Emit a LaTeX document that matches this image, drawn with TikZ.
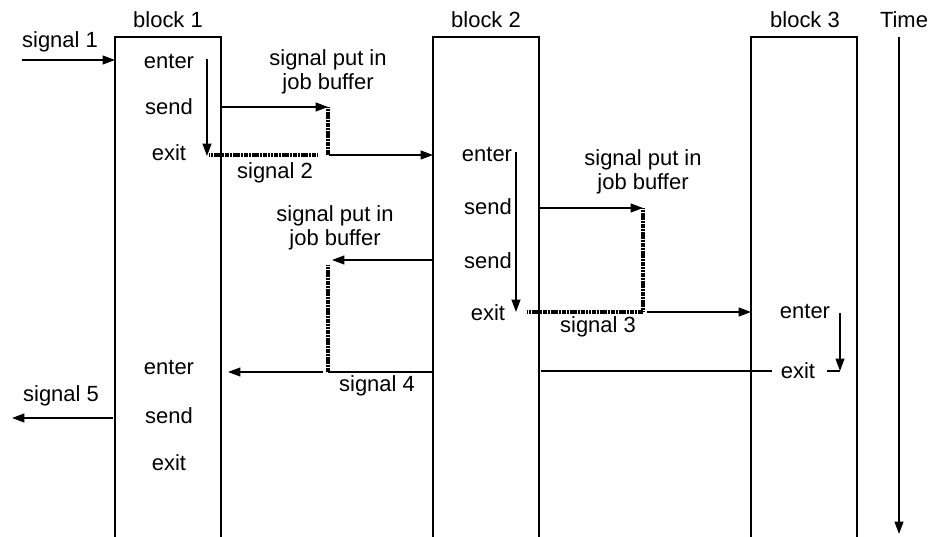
\documentclass[tikz,border=0pt]{standalone}
\usepackage{fontspec}
\setmainfont{Liberation Sans}
\usetikzlibrary{arrows.meta}
\tikzset{
  lbl/.style={font=\fontsize{12.5}{13.6}\selectfont, inner sep=0pt, align=center},
  wire/.style={line width=0.9pt},
  sig/.style={wire, -{Triangle[length=7pt,width=5pt]}},
  buf/.style={line width=2pt, dash pattern=on 0.7pt off 0.2pt},
  block/.style={line width=0.9pt},
}
\begin{document}
\begin{tikzpicture}[x=0.02cm,y=-0.02cm]
\useasboundingbox (0,0) rectangle (930,537);
% blocks
\draw[block] (115,537) -- (115,37) -- (221,37) -- (221,537);
\draw[block] (433,537) -- (433,37) -- (539,37) -- (539,537);
\draw[block] (751,537) -- (751,37) -- (857,37) -- (857,537);
\node[lbl] (blk1) at (168,20) {block 1};
\node[lbl] (blk2) at (486,20) {block 2};
\node[lbl] (blk3) at (805,20) {block 3};
\node[lbl] (time) at (904,20) {Time};
\draw[sig] (899,37) -- (899,534);
% block 1, first run
\node[lbl] (s1) at (60,42) {signal 1};
\draw[sig] (22,60) -- (115,60);
\node[lbl] (b1enter) at (169,62) {enter};
\node[lbl] (b1send) at (169,107) {send};
\node[lbl] (b1exit) at (169,153) {exit};
\draw[sig] (207,59) -- (207,156);
\node[lbl] (jb1) at (328,72) {signal put in\\job buffer};
\draw[sig] (221,107) -- (328,107);
\draw[buf] (328,107) -- (328,155);
\draw[buf] (209,155) -- (318,155);
\draw[sig] (329,155) -- (433,155);
\node[lbl] (s2) at (275,173) {signal 2};
% block 2
\node[lbl] (b2enter) at (487,155) {enter};
\node[lbl] (b2send) at (488,207) {send};
\node[lbl] (b2sendb) at (488,261) {send};
\node[lbl] (b2exit) at (488,313) {exit};
\draw[sig] (516,152) -- (516,312);
\node[lbl] (jb2) at (643,172) {signal put in\\job buffer};
\draw[sig] (539,208) -- (643,208);
\draw[buf] (643,208) -- (643,312);
\draw[buf] (527,312) -- (643,312);
\draw[sig] (647,312) -- (751,312);
\node[lbl] (s3) at (598,327) {signal 3};
\node[lbl] (jb3) at (335,228) {signal put in\\job buffer};
\draw[sig] (433,260) -- (332,260);
\draw[buf] (328,265) -- (328,372);
\draw[wire] (328,372) -- (433,372);
\draw[sig] (323,372) -- (228,372);
\node[lbl] (s4) at (377,386) {signal 4};
% block 3
\node[lbl] (b3enter) at (805,312) {enter};
\node[lbl] (b3exit) at (798,371) {exit};
\draw[sig] (840,313) -- (840,371);
\draw[wire] (827,371) -- (840,371);
\draw[wire] (541,371) -- (772,371);
% block 1, second run
\node[lbl] (b1enterb) at (169,368) {enter};
\node[lbl] (b1sendb) at (169,416) {send};
\node[lbl] (b1exitb) at (169,463) {exit};
\node[lbl] (s5) at (61,396) {signal 5};
\draw[sig] (113,418) -- (12,418);
\end{tikzpicture}
\end{document}
